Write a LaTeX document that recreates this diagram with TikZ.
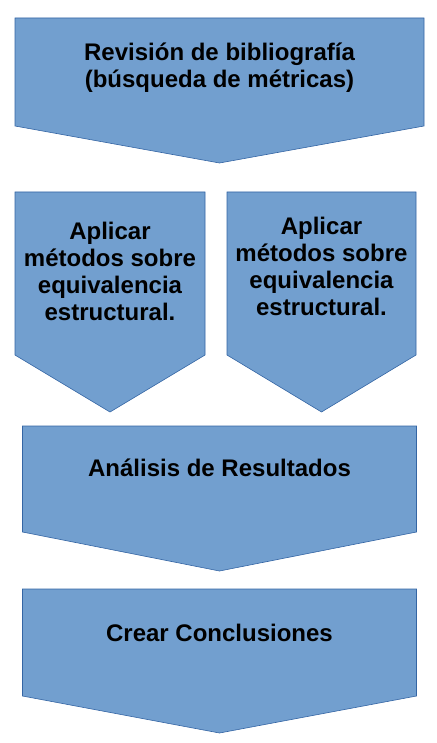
\documentclass[tikz,border=0pt]{standalone}
\usepackage{fontspec}
\setmainfont{Liberation Sans}
\usetikzlibrary{positioning,backgrounds,calc}
\definecolor{chevblue}{HTML}{729FCF}
\definecolor{chevline}{HTML}{3465A4}
\tikzstyle{cbox}=[rectangle, inner sep=0pt, outer sep=0pt, text centered,
                  align=center, font=\fontsize{24}{27}\selectfont\bfseries]
\tikzstyle{cfill}=[fill=chevblue, draw=chevline, line width=0.6pt, line join=miter]

\begin{document}
\begin{tikzpicture}[x=1pt, y=1pt, node distance=0mm]
\useasboundingbox (0,0) rectangle (436,-743);

\node (REV) [cbox, minimum width=409pt, minimum height=108pt, text depth=13pt,
  anchor=north west] at (15,-18) {Revisión de bibliografía\\(búsqueda de métricas)};
\node (AP1) [cbox, minimum width=190pt, minimum height=163pt, text depth=4pt,
  below=66pt of REV.south west, anchor=north west] {Aplicar\\métodos sobre\\equivalencia\\estructural.};
\node (AP2) [cbox, minimum width=189pt, minimum height=163pt, text depth=14pt,
  right=22pt of AP1] {Aplicar\\métodos sobre\\equivalencia\\estructural.};
\node (ANA) [cbox, minimum width=394pt, minimum height=106pt, text depth=22pt,
  below=300pt of REV] {Análisis de Resultados};
\node (CON) [cbox, minimum width=394pt, minimum height=107pt, text depth=19pt,
  below=57pt of ANA] {Crear Conclusiones};

\begin{scope}[on background layer]
 \draw[cfill] (REV.north west) -- (REV.north east) -- (REV.south east) -- ($(REV.south)+(0,-37)$) -- (REV.south west) -- cycle;
 \draw[cfill] (AP1.north west) -- (AP1.north east) -- (AP1.south east) -- ($(AP1.south)+(0,-57)$) -- (AP1.south west) -- cycle;
 \draw[cfill] (AP2.north west) -- (AP2.north east) -- (AP2.south east) -- ($(AP2.south)+(0,-57)$) -- (AP2.south west) -- cycle;
 \draw[cfill] (ANA.north west) -- (ANA.north east) -- (ANA.south east) -- ($(ANA.south)+(0,-39)$) -- (ANA.south west) -- cycle;
 \draw[cfill] (CON.north west) -- (CON.north east) -- (CON.south east) -- ($(CON.south)+(0,-37)$) -- (CON.south west) -- cycle;
\end{scope}

\end{tikzpicture}
\end{document}
